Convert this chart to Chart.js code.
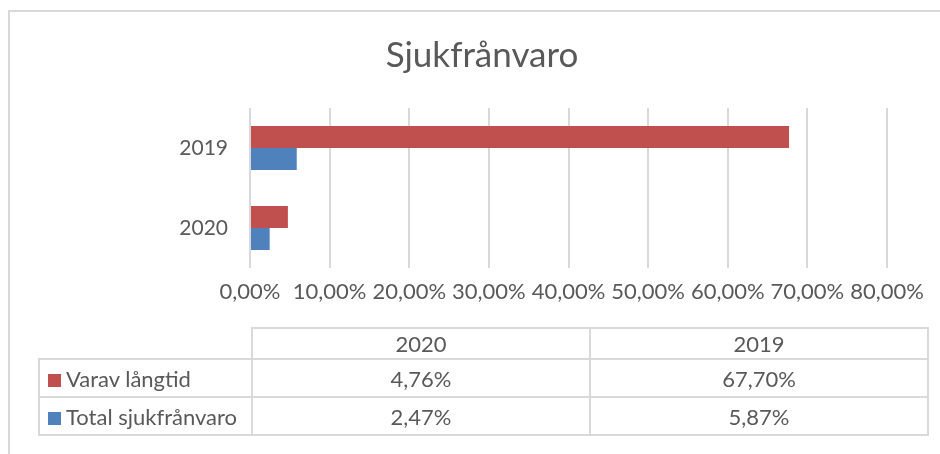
<!DOCTYPE html>
<html lang="sv">
<head>
<meta charset="utf-8">
<title>Sjukfrånvaro</title>
<script src="https://cdn.jsdelivr.net/npm/chart.js@4.4.1/dist/chart.umd.min.js"></script>
<style>
    html, body { margin: 0; padding: 0; background: #fff; }
    #wrap { position: relative; width: 940px; height: 454px; overflow: hidden; font-family: Lato, 'Open Sans', sans-serif; color: #595959; }
    #frame { position: absolute; left: 8px; top: 10px; width: 1000px; height: 1000px; border: 2px solid #d9d9d9; box-sizing: border-box; }
    #title { position: absolute; left: 12px; top: 32px; width: 940px; text-align: center; font-size: 35px; line-height: 42px; }
    #chart-box { position: absolute; left: 0; top: 0; width: 940px; height: 454px; }
    #data-table { position: absolute; left: 38px; top: 327px; border-collapse: collapse; font-size: 22px; }
    #data-table td { border: 2px solid #d9d9d9; padding: 0; text-align: center; }
    #data-table td.label { text-align: left; padding-left: 8px; white-space: nowrap; }
    #data-table td.empty { border: none; }
    .key { display: inline-block; width: 13px; height: 13px; margin-right: 5px; vertical-align: 0px; }
</style>
</head>
<body>
<div id="wrap">
    <div id="frame"></div>
    <div id="chart-box"><canvas id="chart-sick"></canvas></div>
    <div id="title">Sjukfrånvaro</div>
    <table id="data-table"></table>
</div>

<script>
// ── Données ───────────────────────────────────────────────────────────
const years        = ['2020', '2019']
const varavLangtid = [4.76, 67.70]
const totalSjuk    = [2.47, 5.87]
const xTicks       = [0, 10, 20, 30, 40, 50, 60, 70, 80]

const series = [
    { label: 'Varav långtid',      data: varavLangtid, color: '#c0504d' },
    { label: 'Total sjukfrånvaro', data: totalSjuk,    color: '#4f81bd' },
]

const pct = v => v.toFixed(2).replace('.', ',') + '%'

// ── Graphique ─────────────────────────────────────────────────────────
const grid = '#d9d9d9'
const text = '#595959'
Chart.defaults.font.family = "Lato, 'Open Sans', sans-serif"
Chart.defaults.color = text

new Chart(document.getElementById('chart-sick'), {
    type: 'bar',
    data: {
        labels: years,
        datasets: series.map(s => ({
            label: s.label,
            data: s.data,
            backgroundColor: s.color,
            borderWidth: 0,
            categoryPercentage: 0.55,
            barPercentage: 1.0,
        }))
    },
    options: {
        indexAxis: 'y',
        responsive: true,
        maintainAspectRatio: false,
        animation: false,
        layout: { padding: { left: 0, right: 53, top: 108, bottom: 0 } },
        plugins: {
            legend: { display: false },
            tooltip: { enabled: false },
            title: { display: false },
        },
        scales: {
            x: {
                min: xTicks[0],
                max: xTicks[xTicks.length - 1],
                afterBuildTicks: s => { s.ticks = xTicks.map(v => ({ value: v })) },
                afterFit: s => { s.height = 186 },
                grid: { color: grid, lineWidth: 2, drawTicks: false },
                border: { display: false },
                ticks: { color: text, font: { size: 22 }, padding: 11, callback: v => pct(v), maxRotation: 0, autoSkip: false },
            },
            y: {
                reverse: true,
                afterFit: s => { s.width = 250 },
                grid: { display: false, drawTicks: false },
                border: { display: false },
                ticks: { color: text, font: { size: 21 }, padding: 22 },
            },
        },
    },
})

// ── Tableau de données ────────────────────────────────────────────────
const table = document.getElementById('data-table')
let html = '<tr style="height:31px"><td class="empty" style="width:212px"></td>'
years.forEach(y => { html += `<td style="width:336px">${y}</td>` })
html += '</tr>'
series.forEach(s => {
    html += `<tr style="height:38px"><td class="label"><span class="key" style="background:${s.color}"></span>${s.label}</td>`
    s.data.forEach(v => { html += `<td>${pct(v)}</td>` })
    html += '</tr>'
})
table.innerHTML = html
</script>
</body>
</html>
